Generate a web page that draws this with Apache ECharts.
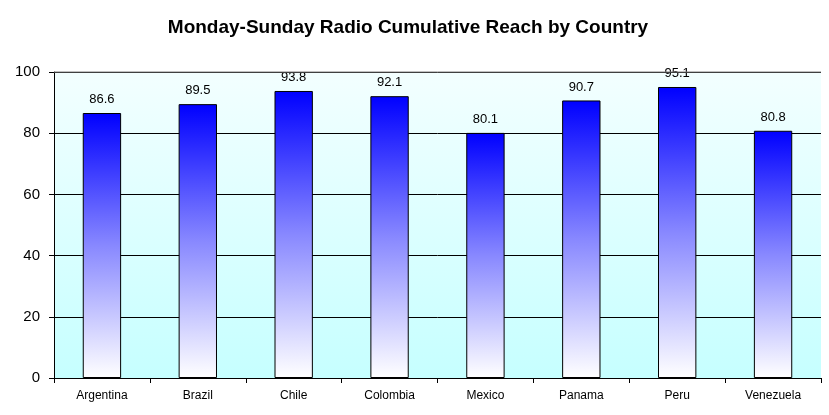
<!DOCTYPE html>
<html><head><meta charset="utf-8">
<script src="https://cdn.jsdelivr.net/npm/echarts@6/dist/echarts.min.js"></script>
<style>html,body{margin:0;padding:0;background:#fff}#c{width:829px;height:415px}</style>
</head><body><div id="c"></div>
<script>
const categories = ["Argentina","Brazil","Chile","Colombia","Mexico","Panama","Peru","Venezuela"];
const reach = [86.6,89.5,93.8,92.1,80.1,90.7,95.1,80.8];
const yTicks = [0,20,40,60,80,100];

const chart = echarts.init(document.getElementById('c'));
chart.setOption({
  animation:false,
  title:{text:"Monday-Sunday Radio Cumulative Reach by Country",left:403,textAlign:'center',top:13,
    textStyle:{fontFamily:'Liberation Sans',fontWeight:'bold',fontSize:19,color:'#000'}},
  grid:{left:54,right:8,top:72,bottom:37,show:true,borderWidth:0,
    backgroundColor:new echarts.graphic.LinearGradient(0,0,0,1,[{offset:0,color:'#f3ffff'},{offset:1,color:'#c6ffff'}])},
  xAxis:{type:'category',data:categories,
    axisLine:{lineStyle:{color:'#000'}},
    axisTick:{show:true,length:5,lineStyle:{color:'#000'}},
    axisLabel:{color:'#000',fontFamily:'Liberation Sans',fontSize:12,margin:12}},
  yAxis:{type:'value',min:yTicks[0],max:yTicks[yTicks.length-1],interval:20,
    axisLine:{show:true,lineStyle:{color:'#000'}},
    axisTick:{show:true,length:5,lineStyle:{color:'#000'}},
    splitLine:{lineStyle:{color:'#000'}},
    axisLabel:{color:'#000',fontFamily:'Liberation Sans',fontSize:15,margin:14}},
  series:[{type:'bar',data:reach,barWidth:'40%',
    itemStyle:{borderColor:'#000',borderWidth:1,
      color:new echarts.graphic.LinearGradient(0,0,0,1,[{offset:0,color:'#0000ff'},{offset:0.5,color:'#8888ff'},{offset:1,color:'#ffffff'}])},
    label:{show:true,position:'top',distance:7,color:'#000',fontFamily:'Liberation Sans',fontSize:13}}]
});
chart.getZr().add(new echarts.graphic.Line({shape:{x1:54,y1:72,x2:821,y2:72},style:{stroke:'#808080',lineWidth:1},z:100}));
</script></body></html>
